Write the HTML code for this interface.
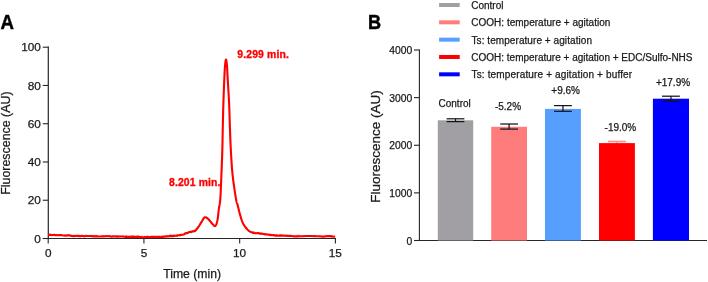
<!DOCTYPE html>
<html><head><meta charset="utf-8"><style>
html,body{margin:0;padding:0;background:#fff;}
body{width:708px;height:282px;overflow:hidden;}
svg{display:block;will-change:transform;}
</style></head><body>
<svg width="708" height="282" viewBox="0 0 708 282">
<rect width="708" height="282" fill="#fff"/>
<line x1="48.3" y1="46.6" x2="48.3" y2="239.1" stroke="#262626" stroke-width="1.2"/>
<line x1="42.8" y1="238.50" x2="48.3" y2="238.50" stroke="#262626" stroke-width="1.1"/>
<line x1="42.8" y1="200.24" x2="48.3" y2="200.24" stroke="#262626" stroke-width="1.1"/>
<line x1="42.8" y1="161.98" x2="48.3" y2="161.98" stroke="#262626" stroke-width="1.1"/>
<line x1="42.8" y1="123.72" x2="48.3" y2="123.72" stroke="#262626" stroke-width="1.1"/>
<line x1="42.8" y1="85.46" x2="48.3" y2="85.46" stroke="#262626" stroke-width="1.1"/>
<line x1="42.8" y1="47.20" x2="48.3" y2="47.20" stroke="#262626" stroke-width="1.1"/>
<line x1="42.8" y1="238.5" x2="336.0" y2="238.5" stroke="#262626" stroke-width="1.1"/>
<line x1="48.20" y1="238.5" x2="48.20" y2="243.6" stroke="#262626" stroke-width="1.1"/>
<line x1="143.93" y1="238.5" x2="143.93" y2="243.6" stroke="#262626" stroke-width="1.1"/>
<line x1="239.67" y1="238.5" x2="239.67" y2="243.6" stroke="#262626" stroke-width="1.1"/>
<line x1="335.40" y1="238.5" x2="335.40" y2="243.6" stroke="#262626" stroke-width="1.1"/>
<path d="M48.00,234.78 L48.68,234.68 L49.50,235.07 L50.47,234.71 L51.55,235.08 L52.75,235.02 L54.05,234.86 L55.43,235.23 L56.90,234.96 L58.42,235.30 L60.00,235.10 L61.68,235.17 L63.49,235.46 L65.41,235.81 L67.42,235.38 L69.50,235.51 L71.62,235.86 L73.75,236.14 L75.87,235.95 L77.96,235.88 L80.00,236.33 L82.00,235.73 L84.00,236.35 L86.00,235.99 L88.00,235.93 L90.00,235.96 L92.00,236.13 L94.00,236.52 L96.00,236.11 L98.00,236.43 L100.00,236.50 L101.95,236.34 L103.84,236.48 L105.69,236.16 L107.52,236.18 L109.38,236.29 L111.28,236.64 L113.27,236.48 L115.36,236.42 L117.59,236.63 L120.00,236.57 L122.67,236.49 L125.63,236.88 L128.80,236.86 L132.10,236.60 L135.44,236.88 L138.74,236.89 L141.93,237.18 L144.93,237.12 L147.64,236.83 L150.00,237.34 L152.02,236.74 L153.78,236.95 L155.34,237.18 L156.71,236.75 L157.94,236.97 L159.05,236.63 L160.08,237.04 L161.06,237.07 L162.02,236.90 L163.00,237.06 L163.95,236.61 L164.82,236.80 L165.60,236.64 L166.33,236.54 L167.00,236.36 L167.63,236.53 L168.24,236.51 L168.82,236.10 L169.41,236.17 L170.00,235.69 L170.57,236.11 L171.09,236.07 L171.58,236.33 L172.04,236.23 L172.49,235.88 L172.94,235.98 L173.41,236.19 L173.90,235.74 L174.42,236.02 L175.00,235.77 L175.62,235.66 L176.29,235.53 L176.98,235.93 L177.69,235.37 L178.42,235.32 L179.16,235.29 L179.90,235.47 L180.65,234.76 L181.38,234.84 L182.10,234.73 L182.82,234.77 L183.54,234.50 L184.28,234.28 L185.01,233.62 L185.74,233.45 L186.47,233.14 L187.18,233.25 L187.88,233.05 L188.55,232.26 L189.20,232.07 L189.83,231.94 L190.45,231.81 L191.05,231.88 L191.64,231.86 L192.22,231.53 L192.78,231.25 L193.31,231.42 L193.83,231.24 L194.33,231.19 L194.80,231.22 L195.24,230.75 L195.65,230.30 L196.03,230.02 L196.39,229.69 L196.73,228.85 L197.06,228.74 L197.39,228.30 L197.72,227.84 L198.05,227.38 L198.40,226.90 L198.76,226.40 L199.12,225.86 L199.48,225.29 L199.84,224.70 L200.19,224.10 L200.55,223.50 L200.90,222.91 L201.24,222.34 L201.57,221.80 L201.90,221.30 L202.21,220.81 L202.51,220.30 L202.80,219.80 L203.07,219.31 L203.35,218.84 L203.63,218.41 L203.90,218.02 L204.19,217.70 L204.49,217.46 L204.80,217.30 L205.12,217.23 L205.45,217.24 L205.78,217.31 L206.12,217.45 L206.46,217.64 L206.81,217.87 L207.17,218.14 L207.54,218.44 L207.91,218.76 L208.30,219.10 L208.70,219.48 L209.13,219.95 L209.58,220.47 L210.03,221.02 L210.49,221.60 L210.95,222.18 L211.40,222.73 L211.82,223.25 L212.23,223.72 L212.60,224.10 L212.94,224.45 L213.27,224.79 L213.57,225.12 L213.86,225.43 L214.14,225.69 L214.40,225.90 L214.66,226.04 L214.91,226.10 L215.16,226.05 L215.40,225.90 L215.64,225.63 L215.88,225.27 L216.10,224.81 L216.32,224.28 L216.54,223.67 L216.74,222.99 L216.94,222.26 L217.14,221.48 L217.32,220.66 L217.50,219.80 L217.67,218.87 L217.82,217.84 L217.97,216.74 L218.11,215.57 L218.24,214.36 L218.37,213.14 L218.50,211.92 L218.63,210.73 L218.76,209.58 L218.90,208.50 L219.04,207.54 L219.18,206.72 L219.33,205.97 L219.47,205.27 L219.62,204.54 L219.76,203.76 L219.90,202.86 L220.04,201.80 L220.17,200.53 L220.30,199.00 L220.42,197.19 L220.54,195.13 L220.66,192.87 L220.77,190.44 L220.88,187.91 L220.99,185.30 L221.09,182.66 L221.20,180.03 L221.30,177.47 L221.40,175.00 L221.50,172.60 L221.60,170.20 L221.70,167.80 L221.79,165.40 L221.89,163.00 L221.98,160.60 L222.07,158.20 L222.15,155.80 L222.23,153.40 L222.30,151.00 L222.37,148.60 L222.42,146.20 L222.48,143.80 L222.52,141.40 L222.57,139.00 L222.61,136.60 L222.66,134.20 L222.70,131.80 L222.75,129.40 L222.80,127.00 L222.85,124.60 L222.91,122.20 L222.96,119.80 L223.02,117.40 L223.08,115.00 L223.13,112.60 L223.19,110.20 L223.26,107.80 L223.33,105.40 L223.40,103.00 L223.48,100.55 L223.56,98.02 L223.65,95.45 L223.75,92.87 L223.84,90.31 L223.94,87.81 L224.04,85.39 L224.13,83.10 L224.22,80.95 L224.30,79.00 L224.38,77.23 L224.45,75.59 L224.52,74.09 L224.58,72.70 L224.64,71.41 L224.71,70.20 L224.77,69.08 L224.84,68.01 L224.92,66.99 L225.00,66.00 L225.09,65.03 L225.18,64.08 L225.28,63.16 L225.38,62.31 L225.48,61.53 L225.59,60.85 L225.69,60.29 L225.80,59.86 L225.90,59.59 L226.00,59.50 L226.10,59.59 L226.20,59.86 L226.31,60.29 L226.41,60.85 L226.52,61.53 L226.62,62.31 L226.72,63.16 L226.82,64.08 L226.91,65.03 L227.00,66.00 L227.08,66.99 L227.15,68.01 L227.21,69.08 L227.27,70.20 L227.33,71.41 L227.38,72.70 L227.45,74.09 L227.52,75.59 L227.60,77.23 L227.70,79.00 L227.81,80.95 L227.94,83.10 L228.09,85.39 L228.24,87.81 L228.39,90.31 L228.55,92.87 L228.70,95.45 L228.85,98.02 L228.98,100.55 L229.10,103.00 L229.20,105.40 L229.30,107.80 L229.38,110.20 L229.45,112.60 L229.52,115.00 L229.59,117.40 L229.66,119.80 L229.74,122.20 L229.81,124.60 L229.90,127.00 L229.99,129.40 L230.08,131.80 L230.16,134.20 L230.25,136.60 L230.34,139.00 L230.44,141.40 L230.54,143.80 L230.65,146.20 L230.77,148.60 L230.90,151.00 L231.03,153.40 L231.17,155.80 L231.31,158.20 L231.45,160.60 L231.60,163.00 L231.76,165.40 L231.94,167.80 L232.14,170.20 L232.36,172.60 L232.60,175.00 L232.88,177.48 L233.20,180.09 L233.55,182.77 L233.92,185.46 L234.31,188.12 L234.69,190.70 L235.06,193.12 L235.41,195.35 L235.73,197.33 L236.00,199.00 L236.23,200.31 L236.42,201.29 L236.58,202.00 L236.73,202.51 L236.86,202.88 L236.98,203.18 L237.11,203.48 L237.25,203.84 L237.41,204.32 L237.60,205.00 L237.81,205.84 L238.04,206.77 L238.28,207.76 L238.54,208.79 L238.79,209.86 L239.06,210.93 L239.32,211.98 L239.59,213.01 L239.85,213.99 L240.10,214.90 L240.35,215.76 L240.58,216.58 L240.82,217.39 L241.05,218.16 L241.29,218.92 L241.53,219.65 L241.78,220.37 L242.04,221.06 L242.31,221.74 L242.60,222.40 L242.90,223.04 L243.21,223.67 L243.53,224.27 L243.86,224.85 L244.19,225.41 L244.54,225.96 L244.91,226.49 L245.29,227.01 L245.68,227.51 L246.10,228.00 L246.52,228.48 L246.93,228.95 L247.34,229.42 L247.76,229.86 L248.20,230.29 L248.68,230.70 L249.19,231.09 L249.76,231.46 L250.39,231.79 L251.10,232.10 L251.88,232.37 L252.73,232.87 L253.63,232.99 L254.59,233.22 L255.59,233.31 L256.62,233.17 L257.69,233.30 L258.78,233.23 L259.89,233.74 L261.00,233.49 L262.08,233.66 L263.10,233.94 L264.10,234.08 L265.12,234.37 L266.19,234.34 L267.33,234.47 L268.59,234.74 L270.00,234.85 L271.59,235.18 L273.40,235.07 L275.41,235.78 L277.59,235.70 L279.92,235.47 L282.39,235.63 L284.99,235.77 L287.71,235.86 L290.53,235.76 L293.45,236.33 L296.44,236.49 L299.50,236.18 L302.84,236.24 L306.60,236.01 L310.63,236.06 L314.80,236.26 L318.98,236.24 L323.03,236.66 L326.81,236.21 L330.19,236.13 L333.03,236.80 L335.20,236.52" fill="none" stroke="#ff0000" stroke-width="2.1" stroke-linejoin="round" stroke-linecap="butt"/>
<path d="M48.50,234.92 L49.30,233.89 M49.50,234.97 L50.30,233.94 M53.50,235.15 L54.30,234.25 M54.50,235.19 L55.30,233.97 M57.50,235.31 L58.30,234.53 M64.50,235.55 L65.30,234.54 M65.50,235.58 L66.30,234.96 M66.50,235.61 L67.30,234.79 M67.50,235.64 L68.30,234.49 M69.50,235.71 L70.30,234.36 M72.50,235.80 L73.30,235.02 M73.50,235.82 L74.30,235.07 M74.50,235.85 L75.30,234.75 M77.50,235.94 L78.30,234.81 M79.50,235.99 L80.30,234.86 M83.50,236.08 L84.30,235.34 M85.50,236.13 L86.30,234.89 M87.50,236.17 L88.30,235.25 M90.50,236.23 L91.30,235.53 M91.50,236.25 L92.30,234.93 M93.50,236.29 L94.30,235.03 M96.50,236.34 L97.30,235.31 M97.50,236.36 L98.30,235.75 M102.50,236.43 L103.30,235.14 M104.50,236.46 L105.30,235.65 M105.50,236.47 L106.30,235.67 M107.50,236.48 L108.30,235.55 M108.50,236.49 L109.30,235.16 M109.50,236.50 L110.30,235.53 M112.50,236.53 L113.30,235.19 M116.50,236.56 L117.30,235.61 M117.50,236.57 L118.30,235.97 M119.50,236.59 L120.30,235.62 M122.50,236.63 L123.30,235.62 M125.50,236.67 L126.30,235.63 M126.50,236.69 L127.30,235.87 M132.50,236.78 L133.30,235.69 M136.50,236.84 L137.30,235.81 M137.50,236.86 L138.30,235.50 M141.50,236.91 L142.30,235.86 M144.50,236.95 L145.30,236.25 M145.50,236.96 L146.30,236.30 M146.50,236.97 L147.30,236.31 M150.50,237.00 L151.30,235.83 M152.50,237.01 L153.30,235.70 M154.50,237.01 L155.30,235.64 M155.50,237.00 L156.30,236.01 M158.50,236.96 L159.30,236.02 M160.50,236.91 L161.30,236.15 M161.50,236.87 L162.30,235.69 M162.50,236.82 L163.30,235.78 M163.50,236.77 L164.30,236.15 M164.50,236.69 L165.30,235.59 M166.50,236.46 L167.30,235.07 M169.50,236.04 L170.30,235.23 M170.50,235.98 L171.30,234.75 M171.50,235.98 L172.30,235.28 M172.50,236.03 L173.30,234.70 M174.50,236.04 L175.30,235.32 M178.50,235.48 L179.30,234.84 M180.50,235.08 L181.30,234.42 M184.50,233.95 L185.30,232.67 M185.50,233.59 L186.30,232.30 M186.50,233.23 L187.30,232.36 M189.50,232.22 L190.30,231.52 M191.50,231.82 L192.30,231.13 M192.50,231.65 L193.30,231.01 M193.50,231.43 L194.30,230.58 M194.50,231.05 L195.30,229.85 M195.50,230.41 L196.30,229.41 M196.50,229.43 L197.30,228.56 M252.50,232.53 L253.30,231.73 M253.50,232.76 L254.30,231.57 M255.50,233.09 L256.30,232.11 M257.50,233.35 L258.30,232.09 M258.50,233.47 L259.30,232.47 M260.50,233.73 L261.30,232.72 M263.50,234.21 L264.30,232.94 M266.50,234.70 L267.30,233.82 M267.50,234.84 L268.30,234.14 M268.50,234.97 L269.30,233.78 M269.50,235.08 L270.30,234.35 M270.50,235.18 L271.30,233.90 M273.50,235.41 L274.30,234.61 M274.50,235.46 L275.30,234.50 M275.50,235.52 L276.30,234.56 M276.50,235.57 L277.30,234.20 M279.50,235.70 L280.30,234.32 M280.50,235.73 L281.30,234.85 M281.50,235.77 L282.30,234.86 M282.50,235.80 L283.30,234.80 M283.50,235.84 L284.30,234.83 M284.50,235.87 L285.30,235.05 M285.50,235.89 L286.30,234.98 M286.50,235.92 L287.30,235.30 M287.50,235.95 L288.30,235.16 M294.50,236.11 L295.30,235.24 M296.50,236.14 L297.30,234.97 M298.50,236.18 L299.30,234.91 M303.50,236.26 L304.30,235.24 M312.50,236.35 L313.30,235.73 M313.50,236.36 L314.30,235.47 M314.50,236.37 L315.30,235.10 M319.50,236.40 L320.30,235.80 M325.50,236.44 L326.30,235.25 M326.50,236.45 L327.30,235.79 M327.50,236.45 L328.30,235.27 M328.50,236.46 L329.30,235.27 M330.50,236.47 L331.30,235.56 M331.50,236.48 L332.30,235.33" fill="none" stroke="#ff0000" stroke-width="1.1"/>
<line x1="419.4" y1="49.5" x2="419.4" y2="241" stroke="#262626" stroke-width="1.1"/>
<line x1="414" y1="240.50" x2="419.4" y2="240.50" stroke="#262626" stroke-width="1.1"/>
<line x1="414" y1="192.88" x2="419.4" y2="192.88" stroke="#262626" stroke-width="1.1"/>
<line x1="414" y1="145.25" x2="419.4" y2="145.25" stroke="#262626" stroke-width="1.1"/>
<line x1="414" y1="97.62" x2="419.4" y2="97.62" stroke="#262626" stroke-width="1.1"/>
<line x1="414" y1="50.00" x2="419.4" y2="50.00" stroke="#262626" stroke-width="1.1"/>
<line x1="419.4" y1="240.5" x2="707" y2="240.5" stroke="#262626" stroke-width="1.1"/>
<rect x="437.8" y="120.3" width="35.40" height="120.20" fill="#a19fa3"/>
<line x1="446.60" y1="118.8" x2="464.40" y2="118.8" stroke="#151515" stroke-width="1.25"/>
<line x1="446.60" y1="121.6" x2="464.40" y2="121.6" stroke="#151515" stroke-width="1.25"/>
<line x1="455.50" y1="118.8" x2="455.50" y2="121.6" stroke="#151515" stroke-width="1.25"/>
<rect x="491.2" y="126.8" width="35.80" height="113.70" fill="#ff7c7c"/>
<line x1="500.20" y1="124.0" x2="518.00" y2="124.0" stroke="#151515" stroke-width="1.25"/>
<line x1="500.20" y1="129.1" x2="518.00" y2="129.1" stroke="#151515" stroke-width="1.25"/>
<line x1="509.10" y1="124.0" x2="509.10" y2="129.1" stroke="#151515" stroke-width="1.25"/>
<rect x="545.0" y="108.9" width="35.90" height="131.60" fill="#579ffe"/>
<line x1="554.05" y1="105.6" x2="571.85" y2="105.6" stroke="#151515" stroke-width="1.25"/>
<line x1="554.05" y1="111.3" x2="571.85" y2="111.3" stroke="#151515" stroke-width="1.25"/>
<line x1="562.95" y1="105.6" x2="562.95" y2="111.3" stroke="#151515" stroke-width="1.25"/>
<rect x="599.0" y="143.1" width="35.90" height="97.40" fill="#ff0000"/>
<line x1="608.05" y1="141.5" x2="625.85" y2="141.5" stroke="#ff8a8a" stroke-width="1.6"/>
<line x1="616.95" y1="141.5" x2="616.95" y2="143.1" stroke="#ff8a8a" stroke-width="1.3"/>
<rect x="652.9" y="98.7" width="36.10" height="141.80" fill="#0000ff"/>
<line x1="662.05" y1="96.2" x2="679.85" y2="96.2" stroke="#151515" stroke-width="1.25"/>
<line x1="662.05" y1="101.2" x2="679.85" y2="101.2" stroke="#151515" stroke-width="1.25"/>
<line x1="670.95" y1="96.2" x2="670.95" y2="101.2" stroke="#151515" stroke-width="1.25"/>
<rect x="439.1" y="3.00" width="20.6" height="4" fill="#a19fa3"/>
<rect x="439.1" y="20.33" width="20.6" height="4" fill="#ff7c7c"/>
<rect x="439.1" y="37.66" width="20.6" height="4" fill="#579ffe"/>
<rect x="439.1" y="54.99" width="20.6" height="4" fill="#ff0000"/>
<rect x="439.1" y="72.32" width="20.6" height="4" fill="#0000ff"/>
<text transform="translate(0.70,0) scale(0.95,1) translate(-0.70,0)" x="0.49" y="28.85" font-family='"Liberation Sans", sans-serif' font-weight="bold" font-size="19.63" fill="#000" stroke="#000" stroke-width="0.45">A</text>
<text transform="translate(369.10,0) scale(0.92,1) translate(-369.10,0)" x="367.96" y="28.85" font-family='"Liberation Sans", sans-serif' font-weight="bold" font-size="19.77" fill="#000" stroke="#000" stroke-width="0.45">B</text>
<text x="34.33" y="242.75" font-family='"Liberation Sans", sans-serif' font-size="11.80" fill="#1a1a1a" stroke="#1a1a1a" stroke-width="0.25">0</text>
<text x="27.77" y="204.49" font-family='"Liberation Sans", sans-serif' font-size="11.80" fill="#1a1a1a" stroke="#1a1a1a" stroke-width="0.25">20</text>
<text x="27.77" y="166.23" font-family='"Liberation Sans", sans-serif' font-size="11.80" fill="#1a1a1a" stroke="#1a1a1a" stroke-width="0.25">40</text>
<text x="27.77" y="127.97" font-family='"Liberation Sans", sans-serif' font-size="11.80" fill="#1a1a1a" stroke="#1a1a1a" stroke-width="0.25">60</text>
<text x="27.77" y="89.71" font-family='"Liberation Sans", sans-serif' font-size="11.80" fill="#1a1a1a" stroke="#1a1a1a" stroke-width="0.25">80</text>
<text x="21.21" y="51.45" font-family='"Liberation Sans", sans-serif' font-size="11.80" fill="#1a1a1a" stroke="#1a1a1a" stroke-width="0.25">100</text>
<text x="44.98" y="256.90" font-family='"Liberation Sans", sans-serif' font-size="11.80" fill="#1a1a1a" stroke="#1a1a1a" stroke-width="0.25">0</text>
<text x="140.81" y="256.90" font-family='"Liberation Sans", sans-serif' font-size="11.80" fill="#1a1a1a" stroke="#1a1a1a" stroke-width="0.25">5</text>
<text x="232.98" y="256.90" font-family='"Liberation Sans", sans-serif' font-size="11.80" fill="#1a1a1a" stroke="#1a1a1a" stroke-width="0.25">10</text>
<text x="328.81" y="256.90" font-family='"Liberation Sans", sans-serif' font-size="11.80" fill="#1a1a1a" stroke="#1a1a1a" stroke-width="0.25">15</text>
<text x="163.21" y="278.44" font-family='"Liberation Sans", sans-serif' font-size="12.20" fill="#1a1a1a" stroke="#1a1a1a" stroke-width="0.25">Time (min)</text>
<text transform="rotate(-90)" x="-194.77" y="9.67" font-family='"Liberation Sans", sans-serif' font-size="12.40" fill="#1a1a1a" stroke="#1a1a1a" stroke-width="0.25">Fluorescence (AU)</text>
<text x="237.28" y="57.90" font-family='"Liberation Sans", sans-serif' font-weight="bold" font-size="10.40" fill="#ff0000" stroke="#ff0000" stroke-width="0.3" textLength="51.54" lengthAdjust="spacing">9.299 min.</text>
<text x="168.98" y="185.60" font-family='"Liberation Sans", sans-serif' font-weight="bold" font-size="10.40" fill="#ff0000" stroke="#ff0000" stroke-width="0.3" textLength="51.44" lengthAdjust="spacing">8.201 min.</text>
<text x="406.43" y="244.62" font-family='"Liberation Sans", sans-serif' font-size="10.30" fill="#1a1a1a" stroke="#1a1a1a" stroke-width="0.25">0</text>
<text x="389.24" y="197.00" font-family='"Liberation Sans", sans-serif' font-size="10.30" fill="#1a1a1a" stroke="#1a1a1a" stroke-width="0.25">1000</text>
<text x="389.24" y="149.37" font-family='"Liberation Sans", sans-serif' font-size="10.30" fill="#1a1a1a" stroke="#1a1a1a" stroke-width="0.25">2000</text>
<text x="389.24" y="101.75" font-family='"Liberation Sans", sans-serif' font-size="10.30" fill="#1a1a1a" stroke="#1a1a1a" stroke-width="0.25">3000</text>
<text x="389.24" y="54.12" font-family='"Liberation Sans", sans-serif' font-size="10.30" fill="#1a1a1a" stroke="#1a1a1a" stroke-width="0.25">4000</text>
<text transform="rotate(-90)" x="-202.85" y="379.88" font-family='"Liberation Sans", sans-serif' font-size="13.50" fill="#1a1a1a" stroke="#1a1a1a" stroke-width="0.25">Fluorescence (AU)</text>
<text x="438.53" y="107.02" font-family='"Liberation Sans", sans-serif' font-size="10.00" fill="#1a1a1a" stroke="#1a1a1a" stroke-width="0.25">Control</text>
<text x="494.93" y="110.22" font-family='"Liberation Sans", sans-serif' font-size="10.00" fill="#1a1a1a" stroke="#1a1a1a" stroke-width="0.25">-5.2%</text>
<text x="551.30" y="93.92" font-family='"Liberation Sans", sans-serif' font-size="10.00" fill="#1a1a1a" stroke="#1a1a1a" stroke-width="0.25">+9.6%</text>
<text x="604.55" y="130.77" font-family='"Liberation Sans", sans-serif' font-size="10.00" fill="#1a1a1a" stroke="#1a1a1a" stroke-width="0.25">-19.0%</text>
<text x="655.92" y="86.12" font-family='"Liberation Sans", sans-serif' font-size="10.00" fill="#1a1a1a" stroke="#1a1a1a" stroke-width="0.25">+17.9%</text>
<text x="471.23" y="8.60" font-family='"Liberation Sans", sans-serif' font-size="10.00" fill="#1a1a1a" stroke="#1a1a1a" stroke-width="0.25" textLength="32.23" lengthAdjust="spacing">Control</text>
<text x="471.23" y="25.90" font-family='"Liberation Sans", sans-serif' font-size="10.00" fill="#1a1a1a" stroke="#1a1a1a" stroke-width="0.25" textLength="139.13" lengthAdjust="spacing">COOH: temperature + agitation</text>
<text x="471.54" y="43.70" font-family='"Liberation Sans", sans-serif' font-size="10.00" fill="#1a1a1a" stroke="#1a1a1a" stroke-width="0.25" textLength="120.42" lengthAdjust="spacing">Ts: temperature + agitation</text>
<text x="471.23" y="60.90" font-family='"Liberation Sans", sans-serif' font-size="10.00" fill="#1a1a1a" stroke="#1a1a1a" stroke-width="0.25" textLength="221.29" lengthAdjust="spacing">COOH: temperature + agitation + EDC/Sulfo-NHS</text>
<text x="471.54" y="78.30" font-family='"Liberation Sans", sans-serif' font-size="10.00" fill="#1a1a1a" stroke="#1a1a1a" stroke-width="0.25" textLength="160.61" lengthAdjust="spacing">Ts: temperature + agitation + buffer</text>
</svg>
</body></html>
